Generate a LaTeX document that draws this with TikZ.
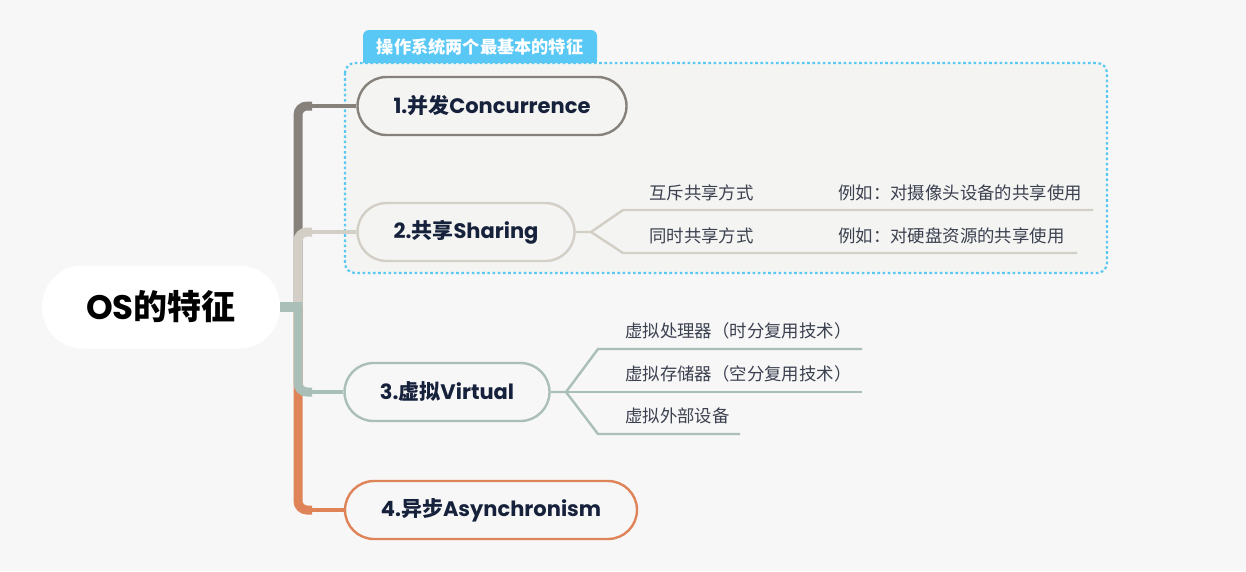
\documentclass[tikz,border=0pt]{standalone}
\usepackage{fontspec}
\setmainfont{Poppins}
\newfontfamily\zh{Noto Sans CJK SC}
\usetikzlibrary{positioning}
\definecolor{bgcol}{HTML}{F7F7F7}
\definecolor{boxbg}{HTML}{F4F4F2}
\definecolor{sumblue}{HTML}{5AC8F5}
\definecolor{navy}{HTML}{16213B}
\definecolor{subgray}{HTML}{3C4150}
\definecolor{cone}{HTML}{86827B}
\definecolor{ctwo}{HTML}{D3CFC6}
\definecolor{cthree}{HTML}{AABFB7}
\definecolor{cfour}{HTML}{DF8358}

\begin{document}
\begin{tikzpicture}[x=1pt,y=-1pt,
	topic/.style={draw, line width=2.4pt, rounded corners=29pt, minimum height=58pt, fill=boxbg, text=navy, font=\bfseries\fontsize{21}{25}\selectfont},
	subtext/.style={anchor=west, inner sep=0pt, text=subgray, font=\zh\fontsize{17.4}{20}\selectfont},
	trunk/.style={line width=9pt, rounded corners=9pt},
	twig/.style={line width=4.5pt},
	leaf/.style={line width=2.4pt}]
	%%%%% START %%%%%
	
	\fill[bgcol] (0,0) rectangle (1246,571);
	\useasboundingbox (0,0) rectangle (1246,571);
	
	% summary box
	\draw[sumblue, fill=boxbg, line width=2.2pt, dash pattern=on 2.6pt off 2.6pt, rounded corners=10pt] (345,63) rectangle (1107,273);
	\node[fill=sumblue, rounded corners=6pt, minimum width=234pt, minimum height=33pt, inner sep=0pt] (tab) at (480,46.5) {};
	\fill[sumblue] (tab.west) rectangle (tab.south east);
	\node[text=white, font=\zh\bfseries\fontsize{17.2}{20}\selectfont] (tabtext) at (tab.center) {操作系统两个最基本的特征};
	
	% root
	\node[fill=white, rounded corners=41pt, minimum width=238pt, minimum height=83pt, font=\bfseries\fontsize{34}{38}\selectfont] (root) at (161,307) {OS{\zh 的特征}};
	
	% topics
	\node[topic, draw=cone, minimum width=269pt] (t1) at (492,106) {1.{\zh 并发}Concurrence};
	\node[topic, draw=ctwo, minimum width=217pt] (t2) at (466,232) {2.{\zh 共享}Sharing};
	\node[topic, draw=cthree, fill=bgcol, minimum width=205pt] (t3) at (447,392) {3.{\zh 虚拟}Virtual};
	\node[topic, draw=cfour, fill=bgcol, minimum width=292pt] (t4) at (491,510) {4.{\zh 异步}Asynchronism};
	
	\coordinate (fork) at (298,307);
	
	% branches
	\draw[trunk, cone] (fork) -- (298,106) -- (312,106);
	\draw[twig, cone] (310,106) -- (t1.west);
	\draw[trunk, ctwo] (fork) -- (298,232) -- (312,232);
	\draw[twig, ctwo] (310,232) -- (t2.west);
	\draw[trunk, cfour] (fork) -- (298,510) -- (312,510);
	\draw[twig, cfour] (310,510) -- (t4.west);
	\draw[trunk, cthree] (fork) -- (298,392) -- (312,392);
	\draw[twig, cthree] (310,392) -- (t3.west);
	\draw[line width=10pt, cthree] (root.east) -- (302,307);
	
	% sharing
	\node[subtext] (m1) at (649,193) {互斥共享方式};
	\node[subtext] (e1) at (838,193) {例如：对摄像头设备的共享使用};
	\node[subtext] (m2) at (649,236) {同时共享方式};
	\node[subtext] (e2) at (838,236) {例如：对硬盘资源的共享使用};
	\coordinate (sf) at (591,232);
	\coordinate (m1end) at (1093,210);
	\coordinate (m2end) at (1077,253);
	\draw[leaf, ctwo] (t2.east) -- (sf) -- (623,210) -- (m1end);
	\draw[leaf, ctwo] (sf) -- (623,253) -- (m2end);
	
	% virtual
	\node[subtext] (v1) at (625,331) {虚拟处理器（时分复用技术）};
	\node[subtext] (v2) at (625,374) {虚拟存储器（空分复用技术）};
	\node[subtext] (v3) at (625,416) {虚拟外部设备};
	\coordinate (vf) at (566,392);
	\coordinate (v1end) at (862,349);
	\coordinate (v2end) at (862,392);
	\coordinate (v3end) at (740,434);
	\draw[leaf, cthree] (t3.east) -- (vf) -- (598,349) -- (v1end);
	\draw[leaf, cthree] (vf) -- (v2end);
	\draw[leaf, cthree] (vf) -- (598,434) -- (v3end);
	
	%%%%% END %%%%%
\end{tikzpicture}
\end{document}
